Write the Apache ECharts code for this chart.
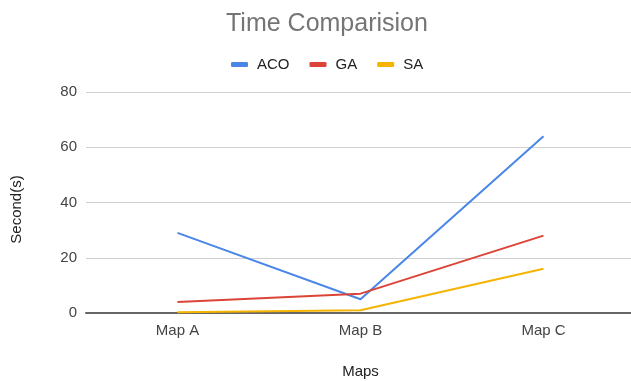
<!DOCTYPE html>
<html>
<head>
<meta charset="utf-8">
<script src="https://cdn.jsdelivr.net/npm/echarts@6/dist/echarts.min.js"></script>
<style>
  html, body { margin: 0; padding: 0; background: #fff; }
  #chart { width: 631px; height: 381px; }
</style>
</head>
<body>
<div id="chart"></div>
<script>
// Run times (seconds) of each algorithm on the three maps
const categories = ['Map A', 'Map B', 'Map C'];
const acoTimes = [29, 5, 64];
const gaTimes = [4, 7, 28];
const saTimes = [0.3, 1, 16];
const seriesNames = ['ACO', 'GA', 'SA'];
const seriesColors = ['#4a86e8', '#db4437', '#f4b400'];

const FONT = '"Liberation Sans", Arial, sans-serif';

const chart = echarts.init(document.getElementById('chart'), null, { renderer: 'canvas' });

const makeLine = (name, data, color) => ({
  name: name,
  type: 'line',
  data: data,
  symbol: 'none',
  lineStyle: { width: 2, color: color },
  itemStyle: { color: color }
});

chart.setOption({
  animation: false,
  backgroundColor: '#ffffff',
  title: {
    text: 'Time Comparision',
    left: 221,
    top: 7,
    textStyle: { fontFamily: FONT, fontSize: 25, fontWeight: 'normal', color: '#757575' }
  },
  legend: {
    data: seriesNames,
    top: 52,
    left: 226,
    itemWidth: 17,
    itemHeight: 5,
    itemGap: 20,
    icon: 'roundRect',
    textStyle: { fontFamily: FONT, fontSize: 15, color: '#222', padding: [0, 0, 0, 4] }
  },
  grid: { left: 86, top: 92, width: 549, height: 221, containLabel: false, outerBoundsMode: 'none' },
  xAxis: {
    type: 'category',
    data: categories,
    boundaryGap: true,
    name: 'Maps',
    nameLocation: 'middle',
    nameGap: 51,
    nameTextStyle: { fontFamily: FONT, fontSize: 15, color: '#222' },
    axisLine: { lineStyle: { color: '#666', width: 2 } },
    axisTick: { show: false },
    axisLabel: { fontFamily: FONT, fontSize: 15, color: '#444', margin: 10 }
  },
  yAxis: {
    type: 'value',
    min: 0,
    max: 80,
    interval: 20,
    name: 'Second(s)',
    nameLocation: 'middle',
    nameRotate: 90,
    nameGap: 62,
    nameTextStyle: { fontFamily: FONT, fontSize: 15, color: '#222', padding: [0, 14, 0, 0] },
    axisLine: { show: false },
    axisTick: { show: false },
    axisLabel: { fontFamily: FONT, fontSize: 15, color: '#444', margin: 9 },
    splitLine: { lineStyle: { color: '#d0d0d0', width: 1 } }
  },
  series: [
    makeLine(seriesNames[0], acoTimes, seriesColors[0]),
    makeLine(seriesNames[1], gaTimes, seriesColors[1]),
    makeLine(seriesNames[2], saTimes, seriesColors[2])
  ]
});
</script>
</body>
</html>
